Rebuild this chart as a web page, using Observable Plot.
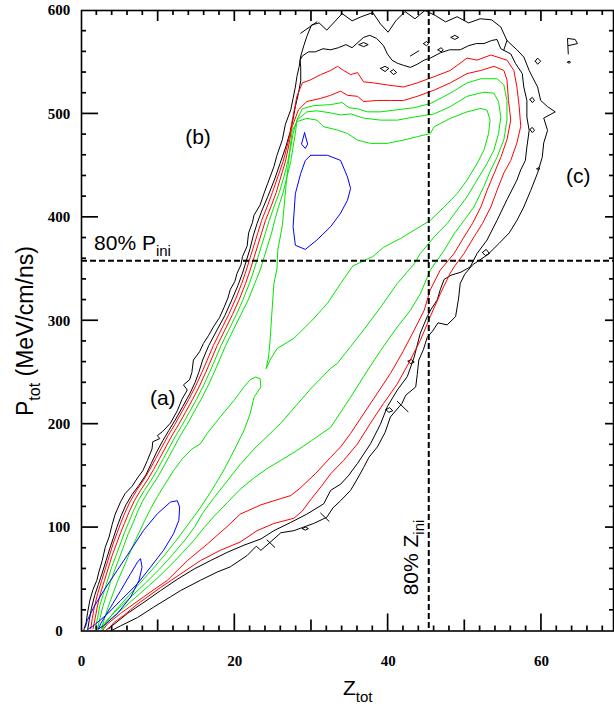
<!DOCTYPE html>
<html><head><meta charset="utf-8">
<script src="https://cdn.jsdelivr.net/npm/d3@7"></script>
<script src="https://cdn.jsdelivr.net/npm/@observablehq/plot@0.6"></script>
<style>
body{margin:0;background:#fff;}
#chart{width:614px;height:708px;}
</style></head><body><div id="chart"></div>
<script>
// ---------- axis / tick values ----------
const Z_DOMAIN = [0, 69.4];
const P_DOMAIN = [0, 600];
const X_LABELS = [0, 20, 40, 60];
const Y_LABELS = [0, 100, 200, 300, 400, 500, 600];
const Z_MAJOR = [20, 40, 60];
const Z_MID = [10, 30, 50];
const Z_MINOR = [2,4,6,8,12,14,16,18,22,24,26,28,32,34,36,38,42,44,46,48,52,54,56,58,62,64,66,68];
const P_MAJOR = [100, 200, 300, 400, 500];
const P_MINOR = [20,40,60,80,120,140,160,180,220,240,260,280,320,340,360,380,420,440,460,480,520,540,560,580];
const P_INI80 = 358;
const Z_INI80 = 45.3;

// ---------- contour lines [Z_tot, P_tot] ----------
const B1 = [[0.3,1],[0.6,8],[0.8,18],[1.1,30],[1.5,40],[2.0,49],[2.3,58],[2.7,68],[3.1,81],[3.6,91],[4.0,103],[4.4,113],[5.1,125],[5.7,133],[6.6,140],[7.3,148],[8.0,155],[8.6,165],[9.2,176],[9.3,183],[10.2,186],[9.9,189],[10.6,193],[11.6,201],[12.5,213],[13.1,224],[13.8,233],[13.3,238],[14.1,243],[14.4,250],[14.6,262],[15.4,270],[15.9,278],[16.6,286],[17.2,294],[18.0,303],[18.6,313],[19.1,322],[19.4,330],[20.0,338],[20.3,346],[20.8,354],[21.0,362],[21.6,372],[21.8,385],[22.3,395],[22.5,402],[23.3,412],[23.8,423],[24.3,433],[25.1,449],[25.5,460],[26.2,475],[26.6,490],[27.3,504],[27.6,515],[27.9,526],[28.1,536],[28.4,546],[28.6,556],[29.0,566],[29.4,575],
 [30.0,586],[31.0,588],[32.0,581],[33.0,589],[34.0,597],[35.3,590],[36.5,594],[38.0,598],[39.0,587],[40.0,579],[41.0,590],[42.2,599],[43.5,592],[44.8,600],[46.2,595],[47.5,589],[49.0,594],[50.5,588],[52.0,592],[53.5,591],[54.7,584],
 [55.5,571],[56.8,562],[57.7,555],[58.4,542],[58.8,536],[59.5,526],[59.9,513],[60.8,507],[61.8,502],[60.3,496],[60.8,484],[60.3,472],[60.1,458],[59.5,443],[58.6,426],[57.7,410],[56.8,397],[55.8,385],[54.5,375],[53.0,364],[51.0,354],[50.0,345],[49.4,336],[49.2,322],[48.8,304],[47.7,296],[46.5,298],[45.8,290],[45.1,284],[44.6,272],[44.0,262],[43.8,248],[43.6,236],[42.3,228],[41.8,220],[40.3,207],[39.6,192],[38.6,178],[37.5,168],[36.8,158],[35.9,146],[35.1,136],[33.8,126],[32.8,119],[32.0,110],[30.3,104],[28.8,100],[27.7,97],[26.0,95],[25.1,89],[23.4,78],[22.8,82],[21.6,73],[19.4,62],[17.7,57],[15.5,49],[12.9,39],[11.6,33],[9.4,23],[7.3,13],[5.1,5],[3.8,0]];
const B2 = [[0.8,1],[1.0,10],[1.3,22],[1.7,34],[2.2,45],[2.7,56],[3.2,68],[3.7,80],[4.2,91],[4.6,100],[5.2,112],[5.8,122],[6.6,132],[7.5,141],[8.4,151],[9.1,162],[9.8,173],[10.6,184],[11.4,194],[12.3,205],[13.2,217],[14.1,229],[14.8,240],[15.3,250],[15.8,262],[16.6,276],[17.6,290],[18.7,305],[19.6,320],[20.4,334],[21.0,346],[21.5,358],[22.0,370],[22.4,382],[22.9,394],[23.5,406],[24.3,420],[25.2,437],[25.9,452],[26.6,467],[27.2,482],[27.6,495],[27.9,507],[28.3,520],[28.6,532],[28.6,545],[28.5,552],
 [28.8,556],[29.6,560],[30.5,560],[31.5,563],[32.5,562],[33.5,564],[34.5,567],[35.3,564],[36.2,570],[36.8,574],[37.6,576],[38.5,573],[39.4,566],[39.9,558],[40.5,552],[41.2,549],[42.0,547],[42.9,545],[43.8,548],[44.7,552],[45.5,554],[46.8,559],[48.0,562],[49.4,562],[50.5,566],[51.5,568],[52.5,568],[53.5,571],[54.2,572],
 [54.7,563],[56.0,558],[56.6,549],[57.5,539],[57.7,526],[58.1,513],[58.1,497],[58.4,484],[58.1,468],[57.9,455],[57.3,446],[56.8,436],[55.5,417],[54.2,397],[52.9,378],[51.6,365],[50.7,352],[49.5,347],[48.2,344],[47.3,340],[46.8,330],[46.4,320],[45.6,311],[45.1,304],[44.2,288],[43.4,265],[42.5,246],[41.2,233],[39.9,217],[39.0,200],[37.7,181],[36.0,162],[34.8,150],[33.8,142],[32.5,136],[31.6,123],[29.4,113],[27.3,105],[25.1,97],[23.4,89],[21.2,83],[19.0,76],[16.8,68],[14.7,60],[12.5,50],[10.3,39],[8.0,27],[6.0,17],[4.5,8],[3.4,2],[3.1,0]];
const R1 = [[1.2,2],[1.4,12],[1.7,24],[2.1,36],[2.6,48],[3.1,60],[3.6,72],[4.1,84],[4.6,94],[5.1,104],[5.7,115],[6.4,126],[7.2,136],[8.1,146],[8.9,156],[9.7,167],[10.5,178],[11.3,189],[12.2,200],[13.1,212],[14.0,224],[14.9,237],[15.7,250],[16.4,262],[17.2,276],[18.2,291],[19.2,306],[20.1,321],[20.9,336],[21.5,349],[22.0,361],[22.5,373],[23.0,385],[23.5,397],[24.2,410],[24.9,424],[25.6,439],[26.3,454],[26.8,468],[27.2,481],[27.5,494],[28.1,517],[28.8,530],[29.9,533],[31.2,538],[32.5,542],[33.4,546],[34.2,542],[35.1,538],[36.0,540],[36.8,531],[38.1,530],[39.9,528],[42.0,526],[43.8,530],[46.0,536],[48.1,542],[50.3,554],[51.6,552],[53.4,557],[55.5,552],[56.4,542],[56.8,526],[57.1,507],[57.3,488],[56.8,472],[56.0,455],[55.1,443],[54.2,426],[53.4,410],[52.3,394],[51.2,381],[49.9,365],[48.6,352],[48.1,346],[46.8,326],[45.5,304],[44.2,281],[42.9,262],[41.2,239],[39.4,220],[37.7,201],[36.0,181],[34.2,165],[32.5,152],[31.3,140],[30.0,128],[28.8,116],[27.7,109],[25.1,104],[22.9,97],[20.7,86],[18.1,78],[15.5,68],[12.9,55],[10.3,42],[7.3,26],[5.5,15],[4.2,8],[3.6,2]];
const R2 = [[1.5,2],[1.8,13],[2.1,25],[2.5,37],[3.0,49],[3.5,61],[4.0,73],[4.6,85],[5.1,95],[5.6,104],[6.2,115],[6.9,126],[7.7,136],[8.6,146],[9.4,156],[10.2,167],[11.0,178],[11.8,189],[12.7,200],[13.6,212],[14.5,224],[15.4,237],[16.2,250],[16.9,262],[17.7,276],[18.7,291],[19.7,306],[20.6,321],[21.4,336],[22.0,349],[22.5,361],[23.0,373],[23.5,385],[24.0,397],[24.7,410],[25.4,424],[26.0,439],[26.6,454],[27.0,468],[27.3,481],[27.5,488],[28.3,504],[29.4,512],[31.2,515],[32.5,518],[33.8,522],[34.7,518],[36.0,517],[36.8,512],[38.6,513],[40.3,513],[42.0,513],[43.8,517],[46.0,523],[48.1,530],[50.3,539],[52.1,542],[53.8,546],[55.1,542],[55.5,533],[55.7,513],[56.0,494],[55.5,475],[54.7,458],[53.8,442],[52.9,426],[52.1,410],[51.0,394],[49.9,381],[48.6,365],[46.8,349],[45.5,330],[44.7,310],[43.4,291],[42.0,271],[40.3,249],[38.6,230],[36.8,210],[35.1,191],[33.8,178],[32.5,168],[30.5,152],[28.5,138],[27.3,131],[26.0,128],[23.4,122],[20.7,113],[19.0,101],[16.4,84],[13.8,68],[11.2,49],[8.1,33],[5.1,17],[3.4,7],[2.8,1]];
const G1 = [[1.8,2],[2.1,13],[2.4,25],[2.9,37],[3.4,49],[3.9,61],[4.5,73],[5.1,85],[5.6,95],[6.1,104],[6.7,115],[7.4,126],[8.2,136],[9.1,146],[9.9,156],[10.7,167],[11.5,178],[12.3,189],[13.2,200],[14.1,212],[15.0,224],[15.9,237],[16.7,250],[17.4,262],[18.2,276],[19.2,291],[20.2,306],[21.1,321],[21.9,336],[22.5,349],[23.0,361],[23.5,373],[24.0,385],[24.5,397],[25.1,410],[25.8,424],[26.4,439],[26.9,454],[27.3,468],[27.6,481],[28.2,496],[28.8,505],[30.3,508],[32.5,509],[34.0,511],[34.9,506],[36.0,505],[37.3,502],[39.0,502],[41.2,504],[43.4,506],[45.5,510],[48.1,520],[50.3,530],[52.1,534],[54.2,534],[55.1,528],[55.5,513],[55.5,494],[55.1,475],[54.2,458],[53.4,446],[52.5,430],[51.2,410],[49.9,397],[48.6,384],[47.3,368],[45.5,349],[44.2,326],[42.9,310],[41.2,294],[39.0,271],[36.8,246],[35.1,226],[33.4,207],[32.5,197],[30.0,184],[28.0,174],[26.0,165],[24.2,157],[22.5,148],[20.7,137],[19.0,124],[17.3,111],[16.0,100],[14.7,88],[13.1,75],[11.4,62],[9.6,49],[7.6,36],[5.6,23],[3.7,11],[2.6,2]];
const G2 = [[2.1,2],[2.4,12],[2.8,24],[3.3,36],[3.8,48],[4.4,60],[5.0,72],[5.6,84],[6.1,94],[6.7,104],[7.3,115],[8.0,126],[8.8,136],[9.7,146],[10.5,156],[11.3,167],[12.1,178],[12.9,189],[13.8,200],[14.7,212],[15.6,224],[16.5,237],[17.3,250],[18.0,262],[18.8,276],[19.8,291],[20.8,306],[21.8,321],[22.6,336],[23.3,349],[23.8,361],[24.3,373],[24.8,385],[25.2,397],[25.7,410],[26.3,424],[26.8,439],[27.3,454],[27.6,468],[27.9,481],[28.1,494],[29.4,502],[30.7,503],[32.5,501],[33.8,499],[35.1,500],[36.8,496],[39.0,494],[41.2,494],[43.4,497],[46.0,500],[48.1,507],[50.3,517],[52.5,521],[53.8,520],[54.4,512],[54.7,497],[54.4,481],[53.8,465],[52.9,452],[51.6,436],[50.3,420],[49.0,407],[47.7,394],[46.0,381],[44.2,365],[43.4,355],[41.2,336],[39.0,313],[36.8,291],[35.1,275],[33.4,259],[32.5,254],[30.0,235],[28.0,218],[26.0,201],[24.2,188],[22.5,176],[20.7,161],[19.0,145],[17.3,129],[15.8,114],[14.8,101],[13.5,88],[11.9,74],[10.2,60],[8.3,46],[6.3,32],[4.3,18],[2.9,7],[2.3,2]];
const G3_UPPER = [[24.1,254],[24.4,265],[24.6,281],[24.8,304],[25.1,336],[25.5,350],[25.6,368],[26.2,392],[26.75,436],[27.2,467],[27.5,484],[28.1,492.5],[29.4,495.7],[30.7,494],[31.6,487.6],[33.4,484.4],[34.7,481],[36.0,474.7],[37.7,471.5],[39.9,471.5],[42.0,474.7],[43.8,478],[45.5,481],[46.0,487.6],[48.1,495.7],[50.3,502],[52.1,505.3],[52.9,503.7],[53.3,494],[53.1,481],[52.5,465],[51.6,452],[50.3,436],[49.0,423],[47.3,410],[45.5,397],[43.4,387.6],[41.6,379.5],[39.4,371],[38.0,362],[35.4,353],[33.8,336],[32.1,317],[29.9,299],[27.7,283],[25.5,273],[24.6,262],[24.1,254]];
const G3_LOWER = [[2.6,2],[3.0,12],[3.5,24],[4.1,36],[4.7,48],[5.4,60],[6.1,72],[6.8,84],[7.5,95],[8.2,106],[9.0,118],[9.9,130],[10.9,142],[12.0,155],[13.2,167],[14.4,176],[15.5,181],[16.4,191],[18.1,207],[19.9,223],[21.2,236],[22.0,243],[22.7,245.6],[23.3,244],[23.4,236],[22.5,226],[22.0,210],[21.2,194],[20.0,176],[18.6,156],[17.0,136],[15.3,117],[13.6,100],[12.4,88],[10.9,74],[9.3,60],[7.6,46],[5.9,32],[4.2,18],[3.1,7],[2.7,1]];
const BLUE_LOWER_OUTER = [[0.5,3.7],[0.74,10],[1.6,23],[2.9,39],[4.65,58.5],[6.4,78],[8.1,97.3],[9.9,113.4],[11.6,124.7],[12.5,126],[12.8,119.8],[12.7,107],[12.0,94],[10.7,78],[9.0,61.7],[7.3,45.7],[5.1,29.5],[3.4,16.6],[1.6,5.3],[0.9,2]];
const BLUE_LOWER_INNER = [[2.2,2],[2.5,7],[3.8,23],[5.1,39],[6.4,55.4],[7.3,66.6],[7.7,70],[7.9,61.7],[7.5,48.9],[6.4,32.7],[4.65,16.6],[2.9,5.3],[2.2,2]];
const BLUE_UPPER = [[29.9,460],[32.1,460],[33.8,455],[34.7,439],[35.1,428],[34.7,416.6],[33.8,404],[32.5,391],[30.7,378],[29.2,369],[27.9,373],[27.6,391],[27.9,423],[28.6,442.5],[29.2,455],[29.9,460]];
const BLUE_TEAR = [[29.1,481.8],[29.5,470.8],[29.2,466.6],[28.7,470.8],[29.1,481.8]];
const ISLANDS = [
 [[39.7,214],[40.2,216],[40.6,213],[40.1,211.5],[39.7,214]],
 [[42.6,261],[43.0,262.5],[43.4,260],[42.9,258.5],[42.6,261]],
 [[28.8,99],[29.2,100.5],[29.6,99],[29.2,97.5],[28.8,99]],
 [[52.3,366],[52.8,369],[53.2,365],[52.7,363],[52.3,366]],
 [[36.2,567],[36.8,569],[37.4,567],[36.8,565],[36.2,567]],
 [[39.0,544],[39.6,546],[40.1,544],[39.6,541],[39.0,544]],
 [[40.3,541],[40.7,543],[41.1,540],[40.7,538],[40.3,541]],
 [[44.6,568],[45.0,570],[45.3,568],[45.0,566],[44.6,568]],
 [[46.5,562],[46.9,564],[47.2,562],[46.9,560],[46.5,562]],
 [[48.2,574],[48.7,576],[49.2,574],[48.7,572],[48.2,574]],
 [[59.2,551],[59.5,554],[59.9,551],[59.5,548],[59.2,551]],
 [[58.5,514],[58.8,516],[59.1,513],[58.8,511],[58.5,514]],
 [[58.5,485],[58.8,487],[59.1,484],[58.8,482],[58.5,485]],
 [[59.4,447],[59.6,448],[59.8,447],[59.6,446],[59.4,447]],
 [[63.4,550],[63.6,551],[63.8,550],[63.6,549],[63.4,550]],
 [[63.5,558],[63.4,573],[64.4,572],[64.7,568],[63.5,566]],
 [[41.2,222],[42.6,212]],
 [[31.2,114],[32.3,106]],
 [[24.2,88],[25.2,81]],
 [[42.9,556],[44.0,561]],
 [[55.1,562],[55.5,571]],
 [[28.6,578],[30.7,589]]
];

// ---------- annotations ----------
const LETTERS = ["(a)", "(b)", "(c)"];
const LETTER_Z = [10.6, 15.2, 64.8];
const LETTER_P = [225, 477, 440];

// ---------- build ----------
function rows(id, pts) { return pts.map(([z, p]) => ({id, z, p})); }
const blackRows = [...rows("B1", B1), ...rows("B2", B2), ...ISLANDS.flatMap((pts, i) => rows("I" + i, pts))];
const redRows = [...rows("R1", R1), ...rows("R2", R2)];
const greenRows = [...rows("G1", G1), ...rows("G2", G2), ...rows("G3u", G3_UPPER), ...rows("G3l", G3_LOWER)];
const blueRows = [...rows("BLo", BLUE_LOWER_OUTER), ...rows("BLi", BLUE_LOWER_INNER), ...rows("BU", BLUE_UPPER), ...rows("BT", BLUE_TEAR)];
const letters = LETTERS.map((t, i) => ({t, z: LETTER_Z[i], p: LETTER_P[i]}));

const W = 614, H = 708, ML = 81, MR = 1, MT = 10, MB = 77.5;

const plot = Plot.plot({
  width: W, height: H,
  marginLeft: ML, marginRight: MR, marginTop: MT, marginBottom: MB,
  x: {domain: Z_DOMAIN, axis: null},
  y: {domain: P_DOMAIN, axis: null},
  style: {background: "white", overflow: "visible"},
  marks: [
    Plot.line(blackRows, {x: "z", y: "p", z: "id", stroke: "black", strokeWidth: 1, clip: true}),
    Plot.line(redRows, {x: "z", y: "p", z: "id", stroke: "#ff0000", strokeWidth: 1, clip: true}),
    Plot.line(greenRows, {x: "z", y: "p", z: "id", stroke: "#00e600", strokeWidth: 1, clip: true}),
    Plot.line(blueRows, {x: "z", y: "p", z: "id", stroke: "#0000ff", strokeWidth: 1, clip: true}),
    Plot.ruleY([P_INI80], {stroke: "black", strokeWidth: 2, strokeDasharray: "6,3"}),
    Plot.ruleX([Z_INI80], {stroke: "black", strokeWidth: 2, strokeDasharray: "6,3"}),
    Plot.frame({stroke: "black", strokeWidth: 1.6}),
    // tick labels
    Plot.text(X_LABELS, {x: d => d, y: P_DOMAIN[0], text: d => String(d), dy: 30, fontFamily: "Liberation Serif", fontWeight: "bold", fontSize: 15, fill: "black"}),
    Plot.text(Y_LABELS, {x: Z_DOMAIN[0], y: d => d, text: d => String(d), dx: -22.5, fontFamily: "Liberation Serif", fontWeight: "bold", fontSize: 15, fill: "black"}),
    // region letters
    Plot.text(letters, {x: "z", y: "p", text: "t", fontFamily: "Liberation Sans", fontSize: 21, fill: "black"})
  ]
});
document.getElementById("chart").appendChild(plot);

// ---------- inward tick marks, placed with the plot's own scales ----------
const sx = plot.scale("x"), sy = plot.scale("y");
const svg = d3.select(plot);
const tg = svg.append("g").attr("stroke", "black").attr("stroke-width", 1.7).attr("fill", "none");
const X0 = sx.apply(Z_DOMAIN[0]), X1 = sx.apply(Z_DOMAIN[1]);
const Y0 = sy.apply(P_DOMAIN[0]), Y1 = sy.apply(P_DOMAIN[1]);
function vTicks(vals, len) {
  for (const v of vals) {
    const x = sx.apply(v);
    tg.append("line").attr("x1", x).attr("x2", x).attr("y1", Y0).attr("y2", Y0 - len);   // bottom, upward
    tg.append("line").attr("x1", x).attr("x2", x).attr("y1", Y1).attr("y2", Y1 + Math.min(len, 11)); // top, downward
  }
}
function hTicks(vals, lenL, lenR) {
  for (const v of vals) {
    const y = sy.apply(v);
    tg.append("line").attr("x1", X0).attr("x2", X0 + lenL).attr("y1", y).attr("y2", y); // left, rightward
    tg.append("line").attr("x1", X1).attr("x2", X1 - lenR).attr("y1", y).attr("y2", y); // right, leftward
  }
}
vTicks(Z_MAJOR, 17); vTicks(Z_MID, 11); vTicks(Z_MINOR, 5);
hTicks(P_MAJOR, 17, 8); hTicks(P_MINOR, 5, 4);

// ---------- subscripted labels ----------
const g = svg.append("g").attr("font-family", "Liberation Sans, Arial, sans-serif").attr("fill", "black").attr("text-anchor", "start");
// 80% P_ini
const tP = g.append("text").attr("text-anchor", "start").attr("x", sx.apply(1.7)).attr("y", sy.apply(P_INI80) - 10).attr("font-size", 21);
tP.append("tspan").text("80% P");
tP.append("tspan").attr("font-size", 15).attr("dy", 6).text("ini");
// 80% Z_ini (rotated)
const tZ = g.append("text").attr("text-anchor", "start").attr("transform", `translate(${sx.apply(Z_INI80) - 10},${sy.apply(34)}) rotate(-90)`).attr("font-size", 21);
tZ.append("tspan").text("80% Z");
tZ.append("tspan").attr("font-size", 15).attr("dy", 6).text("ini");
// x axis title
const tx = g.append("text").attr("text-anchor", "start").attr("x", 343).attr("y", 695).attr("font-size", 21);
tx.append("tspan").text("Z");
tx.append("tspan").attr("font-size", 15).attr("dy", 7).text("tot");
// y axis title
const ty = g.append("text").attr("text-anchor", "start").attr("transform", "translate(33,416) rotate(-90)").attr("font-size", 23);
ty.append("tspan").text("P");
ty.append("tspan").attr("font-size", 16).attr("dy", 7).text("tot");
ty.append("tspan").attr("dy", -7).text(" (MeV/cm/ns)");
</script></body></html>
